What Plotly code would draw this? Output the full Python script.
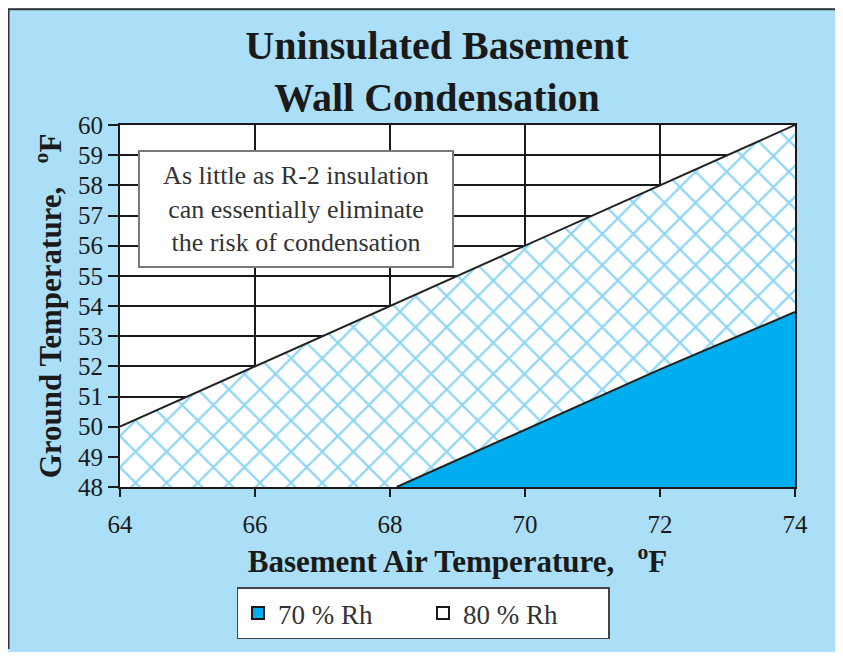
import plotly.graph_objects as go

# ---- data ----
air_temp_ticks = [64, 66, 68, 70, 72, 74]
ground_temp_ticks = list(range(48, 61))

rh80_air = [64, 66, 68, 70, 72, 74]
rh80_ground = [50, 52, 54, 56, 58, 60]

rh70_air = [68.1, 70, 72, 74]
rh70_ground = [48, 49.9, 51.9, 53.8]

series_names = ["70 % Rh", "80 % Rh"]

# ---- styles ----
W, H = 827, 644          # page body adds an 8px margin
ML, MR, MT, MB = 112, 40, 117, 163
PW, PH = W - ML - MR, H - MT - MB
SERIF = "Liberation Serif"
PAPER_BLUE = "#AADFF7"
SOLID_BLUE = "#00AEEF"
HATCH_BLUE = "#22AEEA"
INK = "#1a1a1a"


def px_to_paper_x(px):
    return (px - ML) / PW


def px_to_paper_y(py):
    return (H - MB - py) / PH


fig = go.Figure()

fig.add_trace(go.Scatter(
    x=rh80_air, y=rh80_ground, mode="lines", fill="tozeroy",
    line=dict(color="#222222", width=2),
    fillcolor="white",
    fillpattern=dict(shape="x", fgcolor=HATCH_BLUE, bgcolor="white",
                     size=22, solidity=0.2),
    showlegend=False, hoverinfo="skip",
))
fig.add_trace(go.Scatter(
    x=rh70_air, y=rh70_ground, mode="lines", fill="tozeroy",
    line=dict(color="#222222", width=2),
    fillcolor=SOLID_BLUE,
    showlegend=False, hoverinfo="skip",
))

# legend entries
fig.add_trace(go.Scatter(
    x=[None], y=[None], mode="markers", name=series_names[0],
    marker=dict(symbol="square", size=13, color=SOLID_BLUE,
                line=dict(color=INK, width=1.5)),
))
fig.add_trace(go.Scatter(
    x=[None], y=[None], mode="markers", name=series_names[1],
    marker=dict(symbol="square", size=13, color="white",
                line=dict(color=INK, width=1.5)),
))

fig.update_layout(
    width=W, height=H, autosize=False,
    margin=dict(l=ML, r=MR, t=MT, b=MB),
    paper_bgcolor=PAPER_BLUE,
    plot_bgcolor="white",
    font=dict(family=SERIF, color=INK),
    title=dict(
        text="<b>Uninsulated Basement<br>Wall Condensation</b>",
        font=dict(family=SERIF, size=40, color=INK),
        x=429 / W, xref="container", xanchor="center",
        y=1 - 51 / H, yref="container", yanchor="middle",
    ),
    xaxis=dict(
        range=[64, 74], tickvals=air_temp_ticks,
        showgrid=True, gridcolor=INK, gridwidth=1.5,
        showline=True, mirror=True, linecolor=INK, linewidth=2,
        ticks="outside", ticklen=8, tickwidth=1.5, tickcolor=INK,
        tickfont=dict(family=SERIF, size=25, color=INK),
        ticklabelstandoff=6,
        zeroline=False,
        title=dict(text="<b>Basement Air Temperature,   <sup>o</sup>F</b>",
                   font=dict(family=SERIF, size=31, color=INK),
                   standoff=13),
    ),
    yaxis=dict(
        range=[48, 60], tickvals=ground_temp_ticks,
        showgrid=True, gridcolor=INK, gridwidth=1.5,
        showline=True, mirror=True, linecolor=INK, linewidth=2,
        ticks="outside", ticklen=10, tickwidth=1.5, tickcolor=INK,
        tickfont=dict(family=SERIF, size=25, color=INK),
        zeroline=False,
        title=dict(text="<b>Ground Temperature,   <sup>o</sup>F</b>",
                   font=dict(family=SERIF, size=31, color=INK),
                   standoff=7),
    ),
    legend=dict(
        orientation="h",
        x=px_to_paper_x(415), xanchor="center",
        y=px_to_paper_y(582), yanchor="top",
        bgcolor="white", bordercolor="#444444", borderwidth=1.5,
        font=dict(family=SERIF, size=27, color="#333333"),
        entrywidth=140,
        itemsizing="constant",
    ),
    annotations=[dict(
        x=66.61, y=57.23, xref="x", yref="y",
        text="As little as R-2 insulation<br>can essentially eliminate<br>the risk of condensation",
        showarrow=False, align="center",
        font=dict(family=SERIF, size=26, color="#333333"),
        bgcolor="white", bordercolor="#7a7a7a", borderwidth=2,
        borderpad=5, width=302, height=104,
    )],
    shapes=[
        dict(type="line", xref="paper", yref="paper", layer="below",
             x0=px_to_paper_x(0.5), x1=px_to_paper_x(0.5),
             y0=px_to_paper_y(H), y1=px_to_paper_y(0),
             line=dict(color="#333333", width=2)),
        dict(type="line", xref="paper", yref="paper", layer="below",
             x0=px_to_paper_x(0), x1=px_to_paper_x(W),
             y0=px_to_paper_y(0.5), y1=px_to_paper_y(0.5),
             line=dict(color="#333333", width=2)),
    ],
)

fig.write_html("out.html")
